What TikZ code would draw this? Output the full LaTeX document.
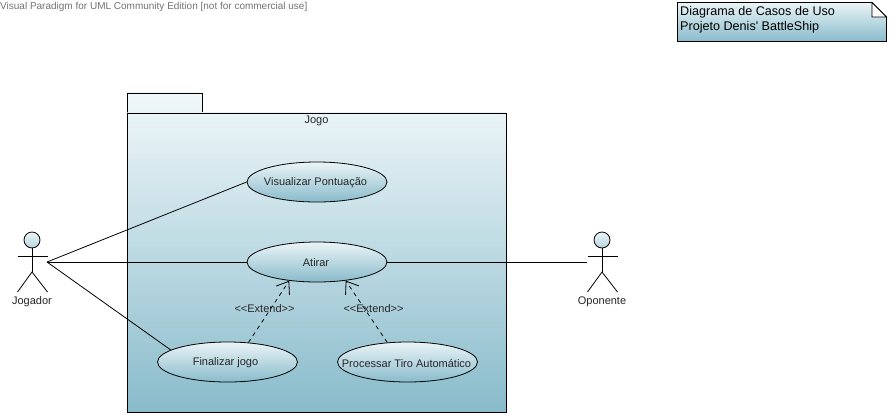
\documentclass[tikz,border=0pt]{standalone}
\usepackage{fontspec}
\setmainfont{Liberation Sans}
\newfontfamily\plainf{Liberation Sans}
\usetikzlibrary{shapes.geometric,arrows.meta}
\definecolor{gtop}{HTML}{EAF4F7}
\definecolor{gbot}{HTML}{89BBCB}
\tikzset{
  x=1pt,y=-1pt,
  every node/.style={font=\fontsize{11}{12}\selectfont,text=black!85,inner sep=0pt},
  line/.style={draw=black,line width=0.8pt},
  usecase/.style={ellipse,line,top color=gtop,bottom color=gbot,minimum width=140pt,minimum height=40pt},
  head/.style={circle,line,top color=gtop,bottom color=gbot!60!white,minimum size=16pt},
  panel/.style={rectangle,line,top color=gtop,bottom color=gbot,anchor=north west},
  tabbox/.style={rectangle,line,top color=gtop!60!white,bottom color=gtop,anchor=north west},
  assoc/.style={line},
  ext/.style={line,dash pattern=on 4pt off 4pt,-{Straight Barb[length=11pt,width=16pt,line width=0.8pt]}},
  lbl/.style={anchor=center},
  notetext/.style={anchor=west,font=\plainf\fontsize{12.6}{15}\selectfont,text=black}
}
\begin{document}
\begin{tikzpicture}
\useasboundingbox (0,0) rectangle (891,416);
\fill[white] (0,0) rectangle (891,416);
\node[anchor=west,text=black!55,font=\fontsize{10}{12}\selectfont] (wm) at (0,6.5) {Visual Paradigm for UML Community Edition [not for commercial use]};
% package
\node[tabbox,minimum width=75pt,minimum height=20pt] (tab) at (127,92.5) {};
\node[panel,minimum width=379pt,minimum height=299pt] (pkg) at (127,112.5) {};
\node[lbl] (pkgname) at (316.5,121) {Jogo};
% note
\shade[line,top color=gtop,bottom color=gbot] (677.5,2.5) -- (872,2.5) -- (886.5,17) -- (886.5,41.5) -- (677.5,41.5) -- cycle;
\draw[line,fill=white] (872,2.5) -- (872,17) -- (886.5,17) -- cycle;
\node[notetext] (n1) at (680,12.5) {Diagrama de Casos de Uso};
\node[notetext] (n2) at (680,27.5) {Projeto Denis' BattleShip};
% actors
\coordinate (jp) at (47,262);
\coordinate (op) at (587,262);
% use cases
\node[usecase] (vis) at (317,182) {};
\node[usecase] (ati) at (317,262) {};
\node[usecase] (fin) at (227.5,362) {};
\node[usecase] (pro) at (407.5,362) {};
% connectors
\draw[assoc] (jp) -- (vis.west);
\draw[assoc] (jp) -- (ati.west);
\draw[assoc] (jp) -- (fin.168.5);
\draw[assoc] (ati.east) -- (op);
\draw[ext] (fin.43.5) -- (ati.-146.3);
\draw[ext] (pro.136.5) -- (ati.-33.7);
% labels
\node[lbl] (t1) at (315.5,183) {Visualizar Pontuação};
\node[lbl] (t2) at (316,263) {Atirar};
\node[lbl] (t3) at (225.5,363) {Finalizar jogo};
\node[lbl] (t4) at (406.5,363) {Processar Tiro Automático};
\node[lbl] (e1) at (264.5,309) {<{}<Extend>{}>};
\node[lbl] (e2) at (373.5,309) {<{}<Extend>{}>};
% Jogador
\node[head] (jh) at (32,240) {};
\coordinate (jb) at (32,272);
\draw[line] (jh.south) -- (jb);
\draw[line] (17.5,256) -- (47.5,256);
\draw[line] (17.5,292) -- (jb) -- (47.5,292);
\node[lbl] (jl) at (32,301.5) {Jogador};
% Oponente
\node[head] (oh) at (602,240) {};
\coordinate (ob) at (602,272);
\draw[line] (oh.south) -- (ob);
\draw[line] (587.5,256) -- (617.5,256);
\draw[line] (587.5,292) -- (ob) -- (617.5,292);
\node[lbl] (ol) at (602,301.5) {Oponente};
\end{tikzpicture}
\end{document}
